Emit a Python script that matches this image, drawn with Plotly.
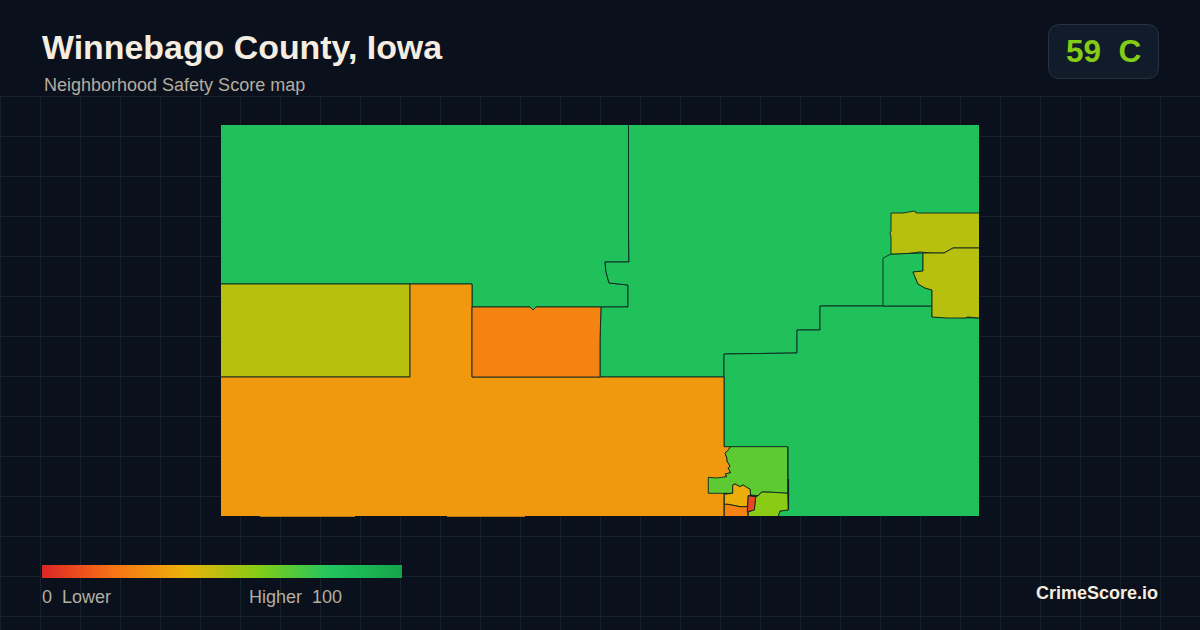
import plotly.graph_objects as go
from plotly.colors import sample_colorscale

TITLE = "Winnebago County, Iowa"
SUBTITLE = "Neighborhood Safety Score map"
SCORE_TEXT = "59\u00a0\u00a0C"
BRAND = "CrimeScore.io"
LOW_LABEL = "0\u00a0\u00a0Lower"
HIGH_LABEL = "Higher\u00a0\u00a0100"

color_stops = [
    [0.0, "#dc2626"], [0.2, "#f97316"], [0.4, "#eab308"],
    [0.6, "#84cc16"], [0.8, "#22c55e"], [1.0, "#16a34a"],
]

# tract outlines (map position units)
north_west = [(221,125),(628.5,125),(628.5,232),(629,262),(605,262),(606,272),(609,283),(628,285),(628,307),
              (536,307),(533,310),(530,307),(472,307),(472,284),(221,284)]
north_east = [(628.5,125),(979,125),(979,318),(932,317),(932,306),(820,306),(820,330),(797,330),(797,353),
              (724,354),(724,377),(600,377),(600,340),(601,307),(628,307),(628,285),(609,283),(606,272),
              (605,262),(629,262),(628.5,232)]
east_inner = [(883,306),(883,258),(885,257),(891,254),(923,253),(923,271),(913,272),(918,284),(925,288),(932,290),(932,306)]
south_east = [(724,354),(797,353),(797,330),(820,330),(820,306),(932,306),(932,317),(979,318),(979,516),
              (778,516),(780,511),(788,510),(788,447),(724,447),(724,377)]
west_olive = [(221,284),(410,284),(410,377),(221,377)]
south_orange = [(221,377),(410,377),(410,284),(472,284),(472,377),(724,377),(724,446.7),(730.7,446.7),(727.7,450.7),
                (725,453.3),(726.7,457.3),(727.3,461.7),(730,466),(728.3,468.3),(730.7,472.7),(725.3,474),(726.7,476.7),
                (724,477.3),(724,516),(525,516),(525,516.8),
                (447,516.8),(447,516),(355,516),(355,516.8),(260,516.8),(260,516),(221,516)]
centre_orange = [(472,307),(530,307),(533,310),(536,307),(601,307),(600,340),(600,377),(472,377)]
top_olive = [(891,213),(903,213),(915,211),(916,213),(979,213),(979,248),(953,248),(944,253),(932,253),
             (920,252),(907,253.5),(891,254),(891,237),(890,233),(891,231)]
east_olive = [(923,253),(932,253),(944,253),(953,248),(979,248),(979,318),(968,317),(965,318),(947,318),
              (932,317),(932,290),(925,288),(918,284),(913,272),(923,271)]
town_green = [(730.7,446.7),(787.7,446.7),(787.7,493.3),(773,492.3),(761.7,492),(758,495.7),(750.7,495),
              (750,489.3),(746.7,487.3),(743,485),(740,486.7),(735,484),(732.7,485),(732.7,493.3),(708.3,493.3),
              (708.3,477.3),(716.7,478),(721.7,477.3),(726.7,476.7),(725.3,474),(730.7,472.7),(728.3,468.3),
              (730,466),(727.3,461.7),(726.7,457.3),(725,453.3),(727.7,450.7)]
town_yellow = [(724.3,494.3),(732.7,493.3),(732.7,485),(735,484),(740,486.7),(743,485),(746.7,487.3),(750,489.3),
               (750.7,495),(748.3,495.7),(747.3,506.7),(740,506.7),(728,504.3),(724.3,504.3)]
town_orange = [(724.3,504.3),(728,504.3),(740,506.7),(747.3,506.7),(748,516),(724.3,516)]
town_red = [(748.3,495.7),(755.7,496.7),(754.3,510),(747.3,511.7)]
town_lime = [(758.3,495.7),(761.7,492),(773,492.3),(787.7,493.3),(788.3,510),(780,511),(778.3,516),(748.3,516),
             (748.3,511.7),(754.3,510),(755.7,496.7)]

tracts = [north_west, north_east, south_east, east_inner, west_olive, south_orange, centre_orange,
          top_olive, east_olive, town_green, town_yellow, town_orange, town_lime, town_red]
scores = [83, 83, 83, 83, 50, 32, 25, 50, 50, 68, 38, 25, 59, 8]

# the map frame: boundary strokes do not run along it
FRAME_LEFT, FRAME_RIGHT, FRAME_TOP, FRAME_BOTTOM = 221, 979, 125, 516

BG = "#0a111c"
GRID = "#14222b"
OUTLINE = "#0e2622"
INK = "#f5ede0"
MUTED = "#b5ada0"

def on_frame(a, b):
    return ((a[0] <= FRAME_LEFT and b[0] <= FRAME_LEFT) or (a[0] >= FRAME_RIGHT and b[0] >= FRAME_RIGHT)
            or (a[1] <= FRAME_TOP and b[1] <= FRAME_TOP) or (a[1] >= FRAME_BOTTOM and b[1] >= FRAME_BOTTOM))

fig = go.Figure()

for outline, score in zip(tracts, scores):
    ring = outline + [outline[0]]
    fig.add_trace(go.Scatter(
        x=[p[0] for p in ring], y=[p[1] for p in ring], mode="none", fill="toself",
        fillcolor=sample_colorscale(color_stops, score / 100)[0], hoverinfo="skip", showlegend=False,
    ))
    lx, ly = [], []
    for a, b in zip(ring, ring[1:]):
        if not on_frame(a, b):
            lx += [a[0], b[0], None]
            ly += [a[1], b[1], None]
    fig.add_trace(go.Scatter(x=lx, y=ly, mode="lines", line=dict(color=OUTLINE, width=0.9),
                             hoverinfo="skip", showlegend=False))

# dark sliver at the east edge of the town
fig.add_trace(go.Scatter(x=[788.5, 788.5], y=[479, 510], mode="lines",
                         line=dict(color=OUTLINE, width=1.2), hoverinfo="skip", showlegend=False))

# legend bar: the library's own colour bar, for an off-canvas carrier point
fig.add_trace(go.Scatter(
    x=[-50, -50], y=[-50, -50], mode="markers", hoverinfo="skip", showlegend=False,
    marker=dict(color=[0, 100], cmin=0, cmax=100, colorscale=color_stops, showscale=True,
                colorbar=dict(orientation="h", x=42/1200, xanchor="left", y=1-578/630, yanchor="bottom",
                              len=360, lenmode="pixels", thickness=13, thicknessmode="pixels",
                              outlinewidth=0, borderwidth=0, xpad=0, ypad=0, ticks="", showticklabels=False)),
))

shapes = []
for gx in range(0, 1201, 40):
    shapes.append(dict(type="line", x0=gx+0.5, x1=gx+0.5, y0=96, y1=630, line=dict(color=GRID, width=1), layer="below"))
for gy in range(96, 631, 40):
    shapes.append(dict(type="line", x0=0, x1=1200, y0=gy+0.5, y1=gy+0.5, line=dict(color=GRID, width=1), layer="below"))
# score badge with rounded corners
shapes.append(dict(type="path",
    path="M 1060 24.5 L 1147 24.5 Q 1158.5 24.5 1158.5 36 L 1158.5 67 Q 1158.5 78.5 1147 78.5 L 1060 78.5 Q 1048.5 78.5 1048.5 67 L 1048.5 36 Q 1048.5 24.5 1060 24.5 Z",
    fillcolor="#111c2a", line=dict(color="#253241", width=1), layer="below"))

def label(x, y, text, size, color, anchor="left", bold=False):
    return dict(x=x, y=y, xref="x", yref="y", text=f"<b>{text}</b>" if bold else text, showarrow=False,
                xanchor=anchor, yanchor="middle", font=dict(family="Liberation Sans", size=size, color=color))

annotations = [
    label(40, 47, TITLE, 33.9, INK, bold=True),
    label(42, 85, SUBTITLE, 18, MUTED),
    label(1103, 51, SCORE_TEXT, 31.5, "#84cc16", anchor="center", bold=True),
    label(40, 597, LOW_LABEL, 18, MUTED),
    label(344, 597, HIGH_LABEL, 18, MUTED, anchor="right"),
    label(1160, 593, BRAND, 18, INK, anchor="right", bold=True),
]

fig.update_layout(
    width=1200, height=630, margin=dict(l=0, r=0, t=0, b=0),
    paper_bgcolor=BG, plot_bgcolor=BG, shapes=shapes, annotations=annotations,
    xaxis=dict(range=[0, 1200], visible=False, fixedrange=True),
    yaxis=dict(range=[630, 0], visible=False, fixedrange=True),
)

fig.write_html("out.html", config={"displayModeBar": False},
               post_script="document.body.style.margin='0';document.body.style.background='#0a111c';")
